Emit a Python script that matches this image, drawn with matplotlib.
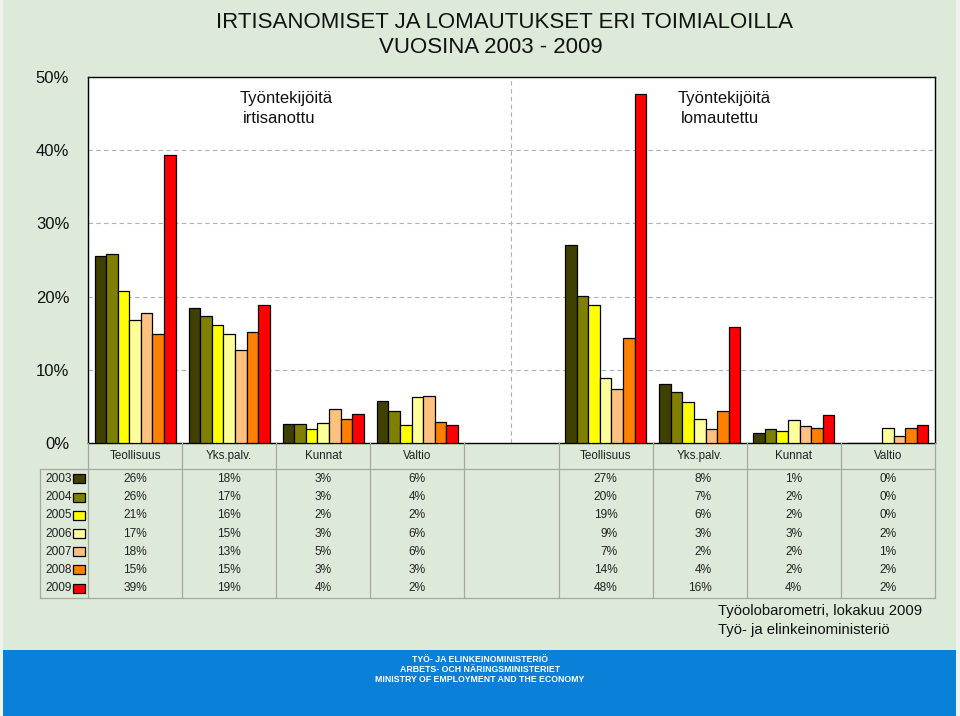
import numpy as np
import matplotlib
matplotlib.use("Agg")
import matplotlib.pyplot as plt
from matplotlib.patches import Rectangle

plt.rcParams['font.family'] = ['Liberation Sans', 'DejaVu Sans']

# ---- data ----
categories = ["Teollisuus", "Yks.palv.", "Kunnat", "Valtio", "",
              "Teollisuus", "Yks.palv.", "Kunnat", "Valtio"]
years = ["2003", "2004", "2005", "2006", "2007", "2008", "2009"]
v2003 = [25.6, 18.4, 2.6, 5.8, None, 27.1, 8.0, 1.3, 0.0]
v2004 = [25.8, 17.4, 2.6, 4.4, None, 20.1, 6.9, 1.9, 0.0]
v2005 = [20.7, 16.1, 1.9, 2.4, None, 18.9, 5.6, 1.6, 0.0]
v2006 = [16.8, 14.9, 2.8, 6.3, None, 8.9, 3.3, 3.2, 2.1]
v2007 = [17.7, 12.7, 4.6, 6.4, None, 7.4, 1.9, 2.3, 0.9]
v2008 = [14.9, 15.2, 3.3, 2.9, None, 14.4, 4.4, 2.0, 2.0]
v2009 = [39.3, 18.9, 3.9, 2.4, None, 47.7, 15.8, 3.8, 2.4]
yticks = [0, 10, 20, 30, 40, 50]
colors = ["#404000", "#808000", "#FFFF00", "#FFFF99", "#FFC080", "#FF8000", "#FF0000"]

series = [v2003, v2004, v2005, v2006, v2007, v2008, v2009]

W, H = 960, 716
BG = "#DDEADA"
fig = plt.figure(figsize=(W / 100, H / 100), dpi=100, facecolor="#EEF4EC")

def fx(px):
    return px / W

def fy(py):
    return 1 - py / H

# background panels
fig.patches.append(Rectangle((fx(3), fy(650)), fx(953), 650 / H, transform=fig.transFigure,
                             facecolor=BG, edgecolor="none", zorder=-10))
fig.patches.append(Rectangle((fx(3), fy(716)), fx(953), 66 / H, transform=fig.transFigure,
                             facecolor="#0A80D8", edgecolor="none", zorder=-10))

# ---- main chart ----
L, R, T, B = 88, 935, 77, 443
ax = fig.add_axes([fx(L), fy(B), fx(R - L), (B - T) / H])
ax.set_facecolor("white")
n = len(categories)
x = np.arange(n)
bw = 0.123
for i, (vals, c) in enumerate(zip(series, colors)):
    h = np.array([np.nan if v is None else v for v in vals], dtype=float)
    ax.bar(x + (i - 3) * bw, h, width=bw, color=c, edgecolor="black", linewidth=0.9, zorder=3)

ax.set_xlim(-0.5, n - 0.5)
ax.set_ylim(0, 50)
ax.set_yticks(yticks)
ax.set_yticklabels([f"{t}%" for t in yticks], fontsize=12, color="#111111")
ax.tick_params(axis="y", length=0, pad=13.5)
ax.set_xticks([])
for t in yticks[1:-1]:
    ax.axhline(t, color="#B0B0B0", linestyle=(0, (4, 3)), linewidth=0.8, zorder=1)
ax.axvline(4, color="#B0B0B0", linestyle=(0, (4, 3)), linewidth=0.8, zorder=1)
for s in ax.spines.values():
    s.set_color("black")
    s.set_linewidth(1.0)

def ann(px, py, txt):
    ax.text((px - L) / (R - L), (B - py) / (B - T), txt, transform=ax.transAxes,
            fontsize=12, ha="left", va="baseline", color="#111111")

ann(240, 103, "Työntekijöitä")
ann(243, 123, "irtisanottu")
ann(678, 103, "Työntekijöitä")
ann(681, 123, "lomautettu")

# ---- title ----
fig.text(fx(505), fy(28), "IRTISANOMISET JA LOMAUTUKSET ERI TOIMIALOILLA",
         ha="center", va="baseline", fontsize=16, color="#111111")
fig.text(fx(491), fy(53), "VUOSINA 2003 - 2009",
         ha="center", va="baseline", fontsize=16, color="#111111")

# ---- data table ----
TB = 598
axt = fig.add_axes([fx(L), fy(TB), fx(R - L), (TB - B) / H])
axt.set_xlim(-0.5, n - 0.5)
axt.set_ylim(TB - B, 0)
axt.axis("off")
lc = "#A3ABA1"
px_per_unit = (R - L) / n
xleft = -0.5 - (L - 40) / px_per_unit
hdr = 469 - B
axt.plot([xleft, n - 0.5], [hdr, hdr], color=lc, lw=0.9, clip_on=False)
axt.plot([xleft, n - 0.5], [TB - B, TB - B], color=lc, lw=0.9, clip_on=False)
axt.plot([xleft, xleft], [hdr, TB - B], color=lc, lw=0.9, clip_on=False)
for k in range(n + 1):
    xb = k - 0.5
    axt.plot([xb, xb], [0, TB - B], color=lc, lw=0.9, clip_on=False)

for k, cat in enumerate(categories):
    axt.text(k, 456 - B, cat, ha="center", va="center", fontsize=8.4, color="#222222")

row_c = [479 + 18.17 * i - B for i in range(len(years))]
for k in range(n):
    labels = [None if s[k] is None else f"{s[k]:.0f}%" for s in series]
    present = [l for l in labels if l is not None]
    if not present:
        continue
    maxlen = max(len(l) for l in present)
    xr = k + (3.5 * maxlen + 1.5) / px_per_unit
    for i, lab in enumerate(labels):
        axt.text(xr, row_c[i], lab, ha="right", va="center", fontsize=8.6, color="#222222")

for i, (yr, c) in enumerate(zip(years, colors)):
    axt.text(-0.5 - 16.5 / px_per_unit, row_c[i], yr, ha="right", va="center",
             fontsize=8.6, color="#222222", clip_on=False)
    axt.add_patch(Rectangle((-0.5 - 15 / px_per_unit, row_c[i] - 4.5), 12 / px_per_unit, 9,
                            facecolor=c, edgecolor="black", linewidth=0.9, clip_on=False))

# ---- source ----
fig.text(fx(718), fy(615), "Työolobarometri, lokakuu 2009", ha="left", va="baseline",
         fontsize=10.7, color="#111111")
fig.text(fx(718), fy(634), "Työ- ja elinkeinoministeriö", ha="left", va="baseline",
         fontsize=10.7, color="#111111")

# ---- banner ----
for yy, txt in [(659, "TYÖ- JA ELINKEINOMINISTERIÖ"),
                (669.5, "ARBETS- OCH NÄRINGSMINISTERIET"),
                (680, "MINISTRY OF EMPLOYMENT AND THE ECONOMY")]:
    fig.text(fx(480), fy(yy), txt, ha="center", va="center", fontsize=6.3,
             fontweight="bold", color="white")

fig.savefig("out.png", dpi=100, facecolor=fig.get_facecolor())
